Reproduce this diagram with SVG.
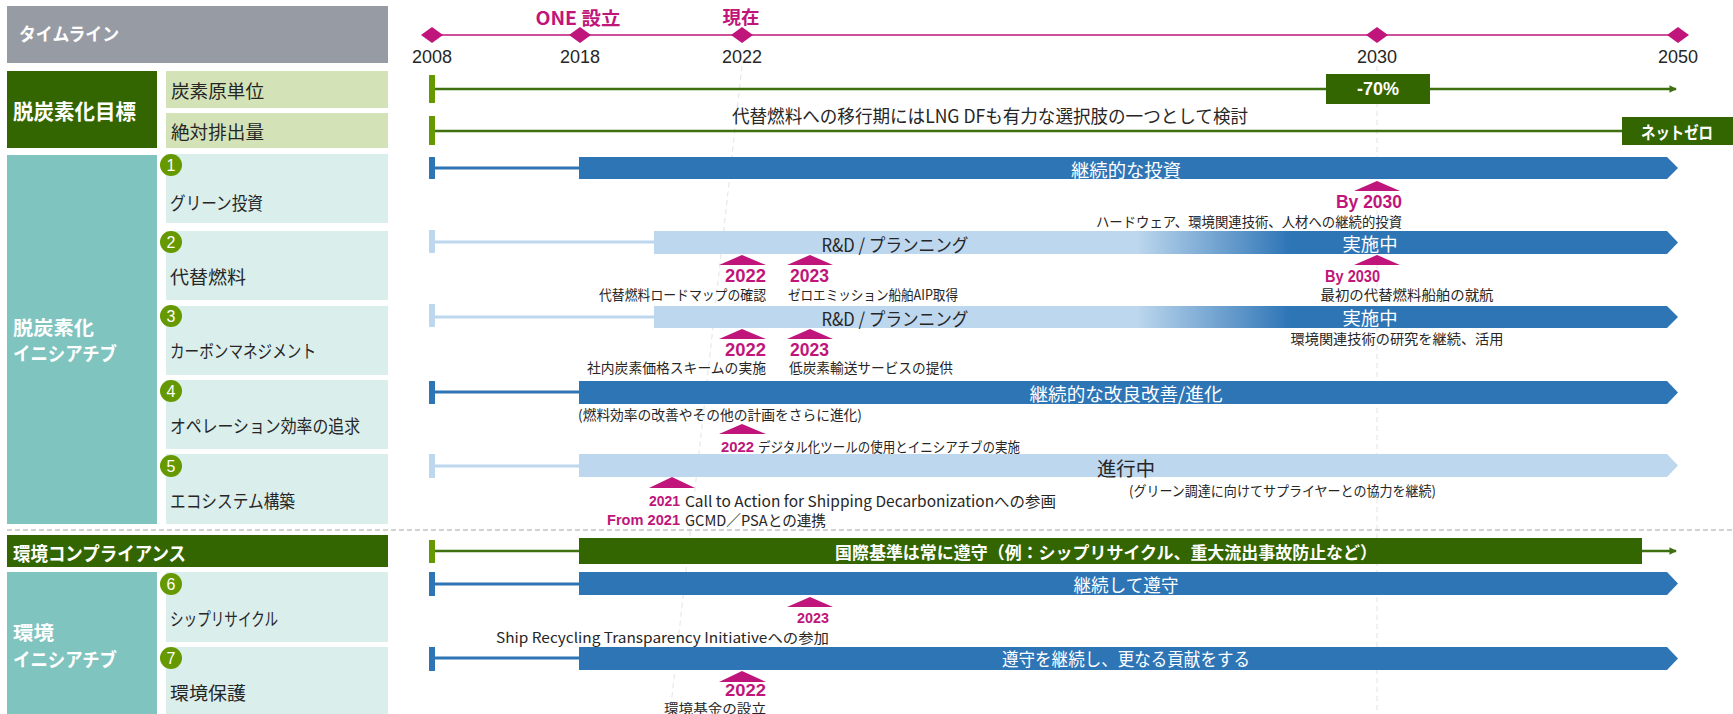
<svg xmlns="http://www.w3.org/2000/svg" width="1733" height="714" viewBox="0 0 1733 714">
<style>
text{dominant-baseline:central}
.jp{font-family:"Noto Sans CJK JP",sans-serif}
.lat{font-family:"Liberation Sans",Arial,"Noto Sans CJK JP",sans-serif}
.w{fill:#fff}
.d{fill:#262626}
.pk{fill:#C0157A;font-weight:bold}
.b{font-weight:bold}
.hdr{fill:#979BA3}
.dg{fill:#336600}
.lg{fill:#D3E2B7}
.teal{fill:#80C4C0}
.lt{fill:#DAEEEC}
.num{fill:#669900}
.blue{fill:#2E75B6}
.lblue{fill:#BDD7EE}
.tri{fill:#C0157A}
.gline{stroke:#3F7010;stroke-width:2.5;fill:none}
.bline{stroke:#2E75B6;stroke-width:3;fill:none}
.lbline{stroke:#BDD7EE;stroke-width:3;fill:none}
.gm{fill:#669900}
</style>
<defs>
<linearGradient id="grad" gradientUnits="userSpaceOnUse" x1="1136" y1="0" x2="1290" y2="0">
<stop offset="0" stop-color="#BDD7EE"/>
<stop offset="1" stop-color="#2E75B6"/>
</linearGradient>
<marker id="ga" viewBox="0 0 8 8" refX="7" refY="4" markerWidth="3" markerHeight="3" orient="auto" markerUnits="strokeWidth">
<path d="M0,0 L8,4 L0,8 z" fill="#3F7010"/>
</marker>
</defs>

<!-- guide lines -->
<g id="guides">
<line x1="1377" y1="66" x2="1377" y2="714" stroke="#E3E3E3" stroke-width="1" stroke-dasharray="5 4"/>
<line x1="742" y1="66" x2="670" y2="714" stroke="#E3E3E3" stroke-width="1" stroke-dasharray="5 4"/>
<line x1="7" y1="530" x2="1733" y2="530" stroke="#A6A6A6" stroke-width="1.2" stroke-dasharray="5 3"/>
</g>

<!-- timeline axis -->
<g id="timeline">
<line x1="432" y1="35" x2="1678" y2="35" stroke="#C0157A" stroke-width="1.5"/>
<polygon points="421,35 432,27 443,35 432,43" class="tri"/>
<polygon points="569,35 580,27 591,35 580,43" class="tri"/>
<polygon points="731,35 742,27 753,35 742,43" class="tri"/>
<polygon points="1366,35 1377,27 1388,35 1377,43" class="tri"/>
<polygon points="1667,35 1678,27 1689,35 1678,43" class="tri"/>
<g class="lat d" font-size="18" text-anchor="middle">
<text x="432" y="57">2008</text>
<text x="580" y="57">2018</text>
<text x="742" y="57">2022</text>
<text x="1377" y="57">2030</text>
<text x="1678" y="57">2050</text>
</g>
<text class="jp pk" x="578" y="17" font-size="18" text-anchor="middle" textLength="85" lengthAdjust="spacingAndGlyphs">ONE 設立</text>
<text class="jp pk" x="741" y="16" font-size="18" text-anchor="middle" textLength="37" lengthAdjust="spacingAndGlyphs">現在</text>
</g>

<!-- left column nodes -->
<g id="header-timeline">
<rect x="7" y="6" width="381" height="57" class="hdr"/>
<text class="jp w b" x="19" y="33" font-size="18" textLength="100" lengthAdjust="spacingAndGlyphs">タイムライン</text>
</g>
<g id="goal-decarb">
<rect x="7" y="71" width="150" height="77" class="dg"/>
<text class="jp w b" x="13" y="110" font-size="21" textLength="123" lengthAdjust="spacingAndGlyphs">脱炭素化目標</text>
</g>
<g id="goal-intensity">
<rect x="166" y="71" width="222" height="37" class="lg"/>
<text class="jp d" x="171" y="90" font-size="18" textLength="93" lengthAdjust="spacingAndGlyphs">炭素原単位</text>
</g>
<g id="goal-absolute">
<rect x="166" y="113" width="222" height="35" class="lg"/>
<text class="jp d" x="171" y="131" font-size="18" textLength="93" lengthAdjust="spacingAndGlyphs">絶対排出量</text>
</g>
<g id="init-decarb">
<rect x="7" y="155" width="150" height="369" class="teal"/>
<text class="jp w b" x="13" y="326" font-size="19" textLength="81" lengthAdjust="spacingAndGlyphs">脱炭素化</text>
<text class="jp w b" x="13" y="352" font-size="19" textLength="104" lengthAdjust="spacingAndGlyphs">イニシアチブ</text>
</g>
<g id="row1-green-invest">
<rect x="166" y="154" width="222" height="69" class="lt"/>
<circle cx="171" cy="165" r="11" class="num"/>
<text class="lat w" x="171" y="165" font-size="16" text-anchor="middle">1</text>
<text class="jp d" x="170" y="202" font-size="18" textLength="93" lengthAdjust="spacingAndGlyphs">グリーン投資</text>
</g>
<g id="row2-alt-fuel">
<rect x="166" y="231" width="222" height="69" class="lt"/>
<circle cx="171" cy="242" r="11" class="num"/>
<text class="lat w" x="171" y="242" font-size="16" text-anchor="middle">2</text>
<text class="jp d" x="170" y="276" font-size="18" textLength="76" lengthAdjust="spacingAndGlyphs">代替燃料</text>
</g>
<g id="row3-carbon-mgmt">
<rect x="166" y="306" width="222" height="69" class="lt"/>
<circle cx="171" cy="316" r="11" class="num"/>
<text class="lat w" x="171" y="316" font-size="16" text-anchor="middle">3</text>
<text class="jp d" x="170" y="350" font-size="18" textLength="146" lengthAdjust="spacingAndGlyphs">カーボンマネジメント</text>
</g>
<g id="row4-operation">
<rect x="166" y="380" width="222" height="69" class="lt"/>
<circle cx="171" cy="391" r="11" class="num"/>
<text class="lat w" x="171" y="391" font-size="16" text-anchor="middle">4</text>
<text class="jp d" x="170" y="425" font-size="18" textLength="190" lengthAdjust="spacingAndGlyphs">オペレーション効率の追求</text>
</g>
<g id="row5-ecosystem">
<rect x="166" y="454" width="222" height="70" class="lt"/>
<circle cx="171" cy="466" r="11" class="num"/>
<text class="lat w" x="171" y="466" font-size="16" text-anchor="middle">5</text>
<text class="jp d" x="170" y="500" font-size="18" textLength="125" lengthAdjust="spacingAndGlyphs">エコシステム構築</text>
</g>
<g id="env-compliance">
<rect x="7" y="535" width="381" height="32" class="dg"/>
<text class="jp w b" x="13" y="552" font-size="19" textLength="173" lengthAdjust="spacingAndGlyphs">環境コンプライアンス</text>
</g>
<g id="init-env">
<rect x="7" y="572" width="150" height="142" class="teal"/>
<text class="jp w b" x="13" y="631" font-size="19" textLength="41" lengthAdjust="spacingAndGlyphs">環境</text>
<text class="jp w b" x="13" y="658" font-size="19" textLength="104" lengthAdjust="spacingAndGlyphs">イニシアチブ</text>
</g>
<g id="row6-recycle">
<rect x="166" y="572" width="222" height="70" class="lt"/>
<circle cx="171" cy="584" r="11" class="num"/>
<text class="lat w" x="171" y="584" font-size="16" text-anchor="middle">6</text>
<text class="jp d" x="170" y="618" font-size="18" textLength="108" lengthAdjust="spacingAndGlyphs">シップリサイクル</text>
</g>
<g id="row7-env-protect">
<rect x="166" y="647" width="222" height="67" class="lt"/>
<circle cx="171" cy="658" r="11" class="num"/>
<text class="lat w" x="171" y="658" font-size="16" text-anchor="middle">7</text>
<text class="jp d" x="170" y="692" font-size="18" textLength="76" lengthAdjust="spacingAndGlyphs">環境保護</text>
</g>

<!-- connectors: timeline lines from 2008 to bars -->
<g id="connectors">
<line x1="435" y1="89" x2="1676" y2="89" class="gline" marker-end="url(#ga)"/>
<line x1="435" y1="131" x2="1622" y2="131" class="gline"/>
<line x1="435" y1="168" x2="579" y2="168" class="bline"/>
<line x1="435" y1="242" x2="654" y2="242" class="lbline"/>
<line x1="435" y1="317" x2="654" y2="317" class="lbline"/>
<line x1="435" y1="392" x2="579" y2="392" class="bline"/>
<line x1="435" y1="466" x2="579" y2="466" class="lbline"/>
<line x1="435" y1="551" x2="579" y2="551" class="gline"/>
<line x1="1642" y1="551" x2="1676" y2="551" class="gline" marker-end="url(#ga)"/>
<line x1="435" y1="584" x2="579" y2="584" class="bline"/>
<line x1="435" y1="658" x2="579" y2="658" class="bline"/>
</g>

<!-- start markers -->
<g id="start-markers">
<rect x="429" y="75" width="6" height="28" class="gm"/>
<rect x="429" y="116" width="6" height="29" class="gm"/>
<rect x="429" y="157" width="6" height="22" class="blue"/>
<rect x="429" y="230" width="6" height="23" class="lblue"/>
<rect x="429" y="304" width="6" height="23" class="lblue"/>
<rect x="429" y="381" width="6" height="23" class="blue"/>
<rect x="429" y="454" width="6" height="24" class="lblue"/>
<rect x="429" y="540" width="6" height="23" class="gm"/>
<rect x="429" y="572" width="6" height="24" class="blue"/>
<rect x="429" y="647" width="6" height="24" class="blue"/>
</g>

<!-- goal rows -->
<g id="goal-intensity-bar">
<rect x="1326" y="74" width="104" height="30" class="dg"/>
<text class="lat w b" x="1378" y="89" font-size="18" text-anchor="middle">-70%</text>
</g>
<g id="goal-absolute-bar">
<text class="jp d" x="732" y="115" font-size="18" textLength="516" lengthAdjust="spacingAndGlyphs">代替燃料への移行期にはLNG DFも有力な選択肢の一つとして検討</text>
<rect x="1622" y="117" width="111" height="28" class="dg"/>
<text class="jp w b" x="1677" y="131" font-size="17" text-anchor="middle" textLength="72" lengthAdjust="spacingAndGlyphs">ネットゼロ</text>
</g>

<!-- row 1 -->
<g id="bar1">
<polygon points="579,157 1667,157 1678,168 1667,179 579,179" class="blue"/>
<text class="jp w" x="1126" y="169" font-size="18" text-anchor="middle" textLength="110" lengthAdjust="spacingAndGlyphs">継続的な投資</text>
<polygon points="1354,191 1377,181 1400,191" class="tri"/>
<text class="lat pk" x="1402" y="202" font-size="18" text-anchor="end" textLength="66" lengthAdjust="spacingAndGlyphs">By 2030</text>
<text class="jp d" x="1402" y="221" font-size="14" text-anchor="end" textLength="306" lengthAdjust="spacingAndGlyphs">ハードウェア、環境関連技術、人材への継続的投資</text>
</g>

<!-- row 2 -->
<g id="bar2">
<polygon points="654,231 1667,231 1678,242.5 1667,254 654,254" fill="url(#grad)"/>
<text class="jp d" x="895" y="244" font-size="18" text-anchor="middle" textLength="147" lengthAdjust="spacingAndGlyphs">R&amp;D / プランニング</text>
<text class="jp w" x="1370" y="243" font-size="18" text-anchor="middle" textLength="55" lengthAdjust="spacingAndGlyphs">実施中</text>
<polygon points="719,265 742,255 766,265" class="tri"/>
<polygon points="787,265 810,255 833,265" class="tri"/>
<polygon points="1354,265 1377,255 1400,265" class="tri"/>
<text class="lat pk" x="766" y="276" font-size="18" text-anchor="end" textLength="41" lengthAdjust="spacingAndGlyphs">2022</text>
<text class="lat pk" x="790" y="276" font-size="18" textLength="39" lengthAdjust="spacingAndGlyphs">2023</text>
<text class="lat pk" x="1380" y="276" font-size="16" text-anchor="end" textLength="55" lengthAdjust="spacingAndGlyphs">By 2030</text>
<text class="jp d" x="766" y="294" font-size="14" text-anchor="end" textLength="167" lengthAdjust="spacingAndGlyphs">代替燃料ロードマップの確認</text>
<text class="jp d" x="788" y="294" font-size="14" textLength="170" lengthAdjust="spacingAndGlyphs">ゼロエミッション船舶AIP取得</text>
<text class="jp d" x="1407" y="294" font-size="14" text-anchor="middle" textLength="173" lengthAdjust="spacingAndGlyphs">最初の代替燃料船舶の就航</text>
</g>

<!-- row 3 -->
<g id="bar3">
<polygon points="654,306 1667,306 1678,317 1667,328 654,328" fill="url(#grad)"/>
<text class="jp d" x="895" y="318" font-size="18" text-anchor="middle" textLength="147" lengthAdjust="spacingAndGlyphs">R&amp;D / プランニング</text>
<text class="jp w" x="1370" y="317" font-size="18" text-anchor="middle" textLength="55" lengthAdjust="spacingAndGlyphs">実施中</text>
<text class="jp d" x="1397" y="338" font-size="14" text-anchor="middle" textLength="213" lengthAdjust="spacingAndGlyphs">環境関連技術の研究を継続、活用</text>
<polygon points="719,339 742,329 766,339" class="tri"/>
<polygon points="787,339 810,329 833,339" class="tri"/>
<text class="lat pk" x="766" y="350" font-size="18" text-anchor="end" textLength="41" lengthAdjust="spacingAndGlyphs">2022</text>
<text class="lat pk" x="790" y="350" font-size="18" textLength="39" lengthAdjust="spacingAndGlyphs">2023</text>
<text class="jp d" x="766" y="367" font-size="14" text-anchor="end" textLength="179" lengthAdjust="spacingAndGlyphs">社内炭素価格スキームの実施</text>
<text class="jp d" x="789" y="367" font-size="14" textLength="164" lengthAdjust="spacingAndGlyphs">低炭素輸送サービスの提供</text>
</g>

<!-- row 4 -->
<g id="bar4">
<polygon points="579,381 1667,381 1678,392.5 1667,404 579,404" class="blue"/>
<text class="jp w" x="1126" y="393" font-size="18" text-anchor="middle" textLength="193" lengthAdjust="spacingAndGlyphs">継続的な改良改善/進化</text>
<text class="jp d" x="578" y="414" font-size="14" textLength="284" lengthAdjust="spacingAndGlyphs">(燃料効率の改善やその他の計画をさらに進化)</text>
<polygon points="719,434 742,424 766,434" class="tri"/>
<text class="lat pk" x="721" y="446" font-size="15" textLength="33" lengthAdjust="spacingAndGlyphs">2022</text>
<text class="jp d" x="758" y="446" font-size="14" textLength="262" lengthAdjust="spacingAndGlyphs">デジタル化ツールの使用とイニシアチブの実施</text>
</g>

<!-- row 5 -->
<g id="bar5">
<polygon points="579,454 1667,454 1678,465.5 1667,477 579,477" class="lblue"/>
<text class="jp d" x="1126" y="467" font-size="19" text-anchor="middle" textLength="58" lengthAdjust="spacingAndGlyphs">進行中</text>
<text class="jp d" x="1129" y="490" font-size="14" textLength="307" lengthAdjust="spacingAndGlyphs">(グリーン調達に向けてサプライヤーとの協力を継続)</text>
<polygon points="649,488 672,477 695,488" class="tri"/>
<text class="lat pk" x="680" y="500" font-size="15" text-anchor="end" textLength="31" lengthAdjust="spacingAndGlyphs">2021</text>
<text class="jp d" x="685" y="500" font-size="15" textLength="371" lengthAdjust="spacingAndGlyphs">Call to Action for Shipping Decarbonizationへの参画</text>
<text class="lat pk" x="680" y="519" font-size="15" text-anchor="end" textLength="73" lengthAdjust="spacingAndGlyphs">From 2021</text>
<text class="jp d" x="685" y="519" font-size="15" textLength="141" lengthAdjust="spacingAndGlyphs">GCMD／PSAとの連携</text>
</g>

<!-- compliance -->
<g id="bar-compliance">
<rect x="579" y="538" width="1063" height="26" class="dg"/>
<text class="jp w b" x="1106" y="551" font-size="17" text-anchor="middle" textLength="542" lengthAdjust="spacingAndGlyphs">国際基準は常に遵守（例：シップリサイクル、重大流出事故防止など）</text>
</g>

<!-- row 6 -->
<g id="bar6">
<polygon points="579,572 1667,572 1678,583.5 1667,595 579,595" class="blue"/>
<text class="jp w" x="1126" y="584" font-size="18" text-anchor="middle" textLength="105" lengthAdjust="spacingAndGlyphs">継続して遵守</text>
<polygon points="787,607 810,597 833,607" class="tri"/>
<text class="lat pk" x="829" y="617" font-size="15" text-anchor="end" textLength="32" lengthAdjust="spacingAndGlyphs">2023</text>
<text class="jp d" x="829" y="637" font-size="14" text-anchor="end" textLength="333" lengthAdjust="spacingAndGlyphs">Ship Recycling Transparency Initiativeへの参加</text>
</g>

<!-- row 7 -->
<g id="bar7">
<polygon points="579,647 1667,647 1678,658.5 1667,670 579,670" class="blue"/>
<text class="jp w" x="1126" y="658" font-size="18" text-anchor="middle" textLength="248" lengthAdjust="spacingAndGlyphs">遵守を継続し、更なる貢献をする</text>
<polygon points="719,682 742,671 766,682" class="tri"/>
<text class="lat pk" x="766" y="690" font-size="17" text-anchor="end" textLength="41" lengthAdjust="spacingAndGlyphs">2022</text>
<text class="jp d" x="766" y="707" font-size="13" text-anchor="end" textLength="102" lengthAdjust="spacingAndGlyphs">環境基金の設立</text>
</g>
</svg>
